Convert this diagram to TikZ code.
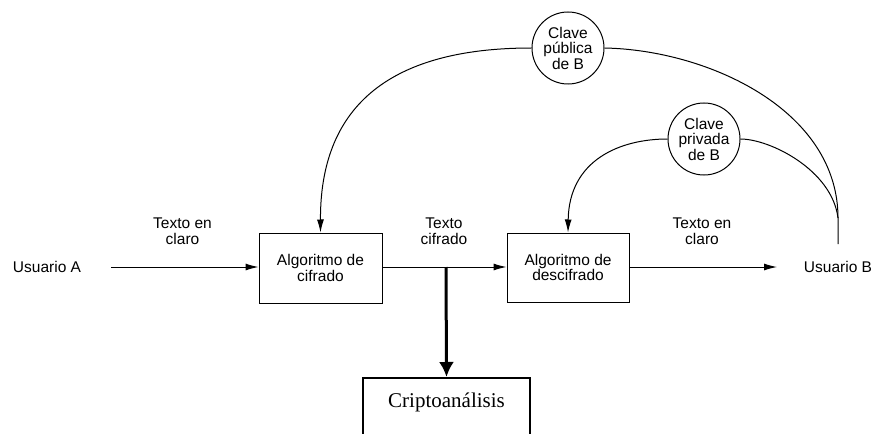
\documentclass[tikz,border=0pt]{standalone}
\usepackage{fontspec}
\setmainfont{Liberation Sans}
\newfontfamily\serifface{Liberation Serif}
\usetikzlibrary{arrows.meta}
\begin{document}
\begin{tikzpicture}[x=1pt,y=-1pt,
  txt/.style={font=\fontsize{15.5}{15.5}\selectfont, align=center, inner sep=0pt},
  proc/.style={draw, line width=1pt, minimum width=123pt, minimum height=70pt, inner sep=0pt, txt},
  key/.style={draw, circle, line width=1pt, minimum size=72pt, inner sep=0pt, txt},
  flow/.style={line width=1pt, -{Latex[length=13pt,width=7pt]}},
  link/.style={line width=1pt},
  heavy/.style={line width=3pt, -{Latex[length=15pt,width=15pt]}}]
\useasboundingbox (0,0) rectangle (874,433);
\clip (0,0) rectangle (874,433);

% senders, receivers and processing boxes
\node[txt] (ua) at (47,267) {Usuario A};
\node[txt] (ub) at (838,267) {Usuario B};
\node[proc] (enc) at (320.5,268) {Algoritmo de\\cifrado};
\node[proc, minimum width=122pt, minimum height=69pt] (dec) at (568,267.5) {Algoritmo de\\descifrado};
\node[draw, line width=2pt, anchor=north, minimum width=167pt, inner sep=0pt,
      text height=29pt, text depth=39pt, font=\serifface\fontsize{21}{21}\selectfont]
      (crypto) at (446.5,377) {Criptoanálisis};

% keys
\node[key] (pub) at (568,48) {Clave\\pública\\de B};
\node[key] (priv) at (704,139) {Clave\\privada\\de B};

% labels on the message flow
\node[txt] (l1) at (182.5,231) {Texto en\\claro};
\node[txt] (l2) at (444,231) {Texto\\cifrado};
\node[txt] (l3) at (702,231) {Texto en\\claro};

% helper points
\coordinate (astart) at (111,267);
\coordinate (split) at (446,267);
\coordinate (bend) at (777,267);
\coordinate (merge) at (838,218);
\coordinate (ubtop) at (838,244);

% message flow
\draw[flow] (astart) -- (enc.west |- astart);
\draw[flow] (enc.east |- split) -- (dec.west |- split);
\draw[flow] (dec.east |- bend) -- (bend);
\draw[heavy] (split) -- (crypto.north);

% key distribution
\draw[flow] (pub.west) .. controls (385,48) and (320,110) .. (enc.north);
\draw[link] (pub.east) .. controls (708,50) and (838,110) .. (merge) -- (ubtop);
\draw[flow] (priv.west) .. controls (620,139) and (569,160) .. (dec.north);
\draw[link] (priv.east) .. controls (770,139) and (832,170) .. (merge);
\end{tikzpicture}
\end{document}
